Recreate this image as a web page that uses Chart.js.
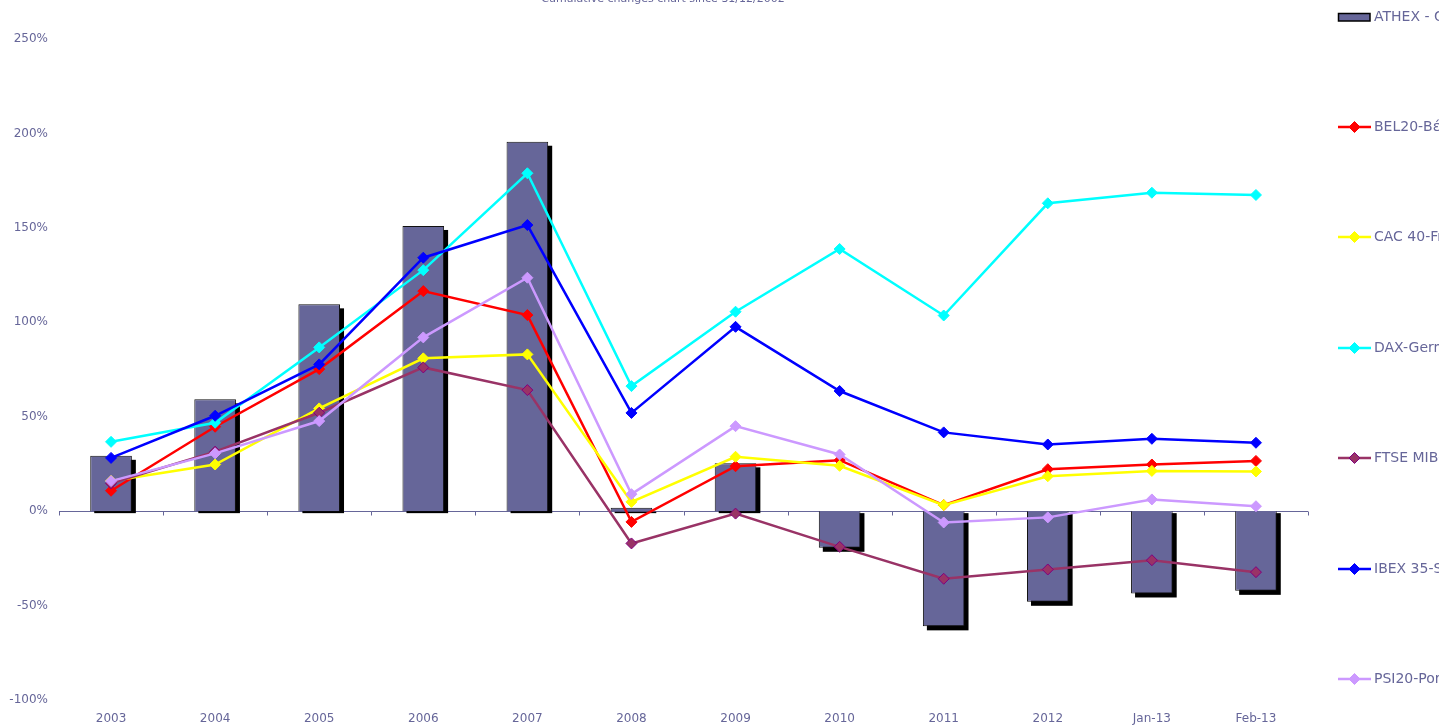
<!DOCTYPE html>
<html>
<head>
<meta charset="utf-8">
<script src="https://cdn.jsdelivr.net/npm/chart.js@4/dist/chart.umd.min.js"></script>
<style>
html,body{margin:0;padding:0;background:#fff;}
#wrap{width:1439px;height:726px;position:relative;}
</style>
</head>
<body>
<div id="wrap"><canvas id="c"></canvas></div>
<script>
const categories = ["2003","2004","2005","2006","2007","2008","2009","2010","2011","2012","Jan-13","Feb-13"];
const athex = [29.3, 59.2, 109.5, 151, 195.6, 1.8, 25.3, -19.4, -61, -48, -43.6, -42.2];
const bel20 = [10.8, 44.7, 75.2, 116.5, 103.8, -5.7, 23.8, 27, 3.2, 22.2, 24.7, 26.6];
const cac40 = [16, 24.7, 54.4, 80.9, 83, 4.9, 28.8, 24, 3.2, 18.5, 21.3, 21];
const dax = [36.7, 46.8, 86.7, 127.6, 178.9, 66.2, 105.6, 138.8, 103.6, 163, 168.6, 167.4];
const ftse = [14.7, 31.5, 52.1, 76.1, 64.1, -17.1, -1.3, -18.9, -35.8, -30.9, -26, -32.3];
const ibex = [28.2, 50.5, 77.7, 134.2, 151.5, 52, 97.6, 63.6, 41.7, 35.3, 38.3, 36.2];
const psi20 = [15.9, 30.6, 47.7, 92, 123.6, 9, 45, 30, -6, -3.3, 6.2, 2.6];
const seriesNames = ["ATHEX - General Index", "BEL20-Βέλγιο", "CAC 40-France", "DAX-Germany", "FTSE MIB-Italy", "IBEX 35-Spain", "PSI20-Portugal"];
const yTicks = [-100, -50, 0, 50, 100, 150, 200, 250];
const titleText = "Cumulative changes chart since 31/12/2002";

const TXT = '#666699';
const FONT = '"DejaVu Sans", sans-serif';

function lineDs(label, data, color, order, border) {
  return {
    type: 'line', label, data, borderColor: color, backgroundColor: color,
    borderWidth: 2.5, pointStyle: 'rectRot', pointRadius: 5.5, pointHoverRadius: 5.5,
    pointBackgroundColor: color, pointBorderColor: border || color, pointBorderWidth: 1,
    tension: 0, fill: false, order
  };
}

const datasets = [
  { type: 'bar', label: seriesNames[0], data: athex, backgroundColor: '#666699',
    borderColor: '#111111', borderWidth: 1, barPercentage: 0.4, categoryPercentage: 1, order: 20, shadow: true },
  lineDs(seriesNames[1], bel20, '#ff0000', 6),
  lineDs(seriesNames[2], cac40, '#ffff00', 5),
  lineDs(seriesNames[3], dax, '#00ffff', 4),
  lineDs(seriesNames[4], ftse, '#993366', 3, '#800080'),
  lineDs(seriesNames[5], ibex, '#0000ff', 2),
  lineDs(seriesNames[6], psi20, '#cc99ff', 1)
];

// draws the drop shadow of each bar from the bar element geometry computed by Chart.js
const shadowPlugin = {
  id: 'shadow',
  beforeDatasetDraw(chart, args) {
    if (!chart.data.datasets[args.index].shadow) return;
    const ctx = chart.ctx;
    ctx.save();
    ctx.fillStyle = '#000';
    args.meta.data.forEach(el => {
      const p = el.getProps(['x', 'y', 'base', 'width'], true);
      const left = p.x - p.width / 2 + 4;
      let top, bottom;
      if (p.y <= p.base) { top = p.y + 4; bottom = p.base + 2; }
      else { top = p.base + 2; bottom = p.y + 4; }
      ctx.fillRect(left, top, p.width, Math.max(0, bottom - top));
    });
    ctx.restore();
  }
};

const axisPlugin = {
  id: 'zeroAxis',
  beforeDatasetsDraw(chart) {
    const ctx = chart.ctx, y = chart.scales.y;
    const y0 = Math.round(y.getPixelForValue(0)) + 0.5;
    ctx.save();
    ctx.strokeStyle = TXT;
    ctx.lineWidth = 1;
    ctx.beginPath();
    ctx.moveTo(chart.chartArea.left, y0);
    ctx.lineTo(chart.chartArea.right, y0);
    const n = categories.length;
    const step = (chart.chartArea.right - chart.chartArea.left) / n;
    for (let i = 0; i <= n; i++) {
      const px = Math.round(chart.chartArea.left + i * step) + 0.5;
      ctx.moveTo(px, y0);
      ctx.lineTo(px, y0 + 4);
    }
    ctx.stroke();
    ctx.restore();
  }
};

const legendPlugin = {
  id: 'customLegend',
  afterDraw(chart) {
    const ctx = chart.ctx;
    const ys = [17, 127, 237, 348, 458, 569, 679];
    ctx.save();
    ctx.font = '14px ' + FONT;
    ctx.textBaseline = 'middle';
    ctx.textAlign = 'left';
    chart.data.datasets.forEach((ds, i) => {
      const yy = ys[i];
      if (ds.type === 'bar') {
        ctx.fillStyle = ds.backgroundColor;
        ctx.fillRect(1338, yy - 4, 32, 8);
        ctx.strokeStyle = '#000';
        ctx.lineWidth = 1.5;
        ctx.strokeRect(1338.5, yy - 3.5, 31.5, 7.5);
      } else {
        ctx.strokeStyle = ds.borderColor;
        ctx.lineWidth = 2.5;
        ctx.beginPath();
        ctx.moveTo(1338, yy);
        ctx.lineTo(1371, yy);
        ctx.stroke();
        ctx.fillStyle = ds.pointBackgroundColor;
        ctx.strokeStyle = ds.pointBorderColor;
        ctx.lineWidth = 1;
        ctx.beginPath();
        ctx.moveTo(1354.5, yy - 5.5);
        ctx.lineTo(1360, yy);
        ctx.lineTo(1354.5, yy + 5.5);
        ctx.lineTo(1349, yy);
        ctx.closePath();
        ctx.fill();
        ctx.stroke();
      }
      ctx.fillStyle = TXT;
      ctx.fillText(ds.label, 1374, yy);
    });
    // title (cut off at the top edge)
    ctx.font = '11px ' + FONT;
    ctx.textAlign = 'center';
    ctx.textBaseline = 'alphabetic';
    ctx.fillStyle = TXT;
    ctx.fillText(titleText, 663, 2);
    ctx.restore();
  }
};

new Chart(document.getElementById('c'), {
  data: { labels: categories, datasets },
  options: {
    responsive: true,
    maintainAspectRatio: false,
    animation: false,
    layout: { padding: { top: 39, right: 131, left: 0, bottom: 0 } },
    plugins: { legend: { display: false }, title: { display: false }, tooltip: { enabled: false } },
    scales: {
      x: {
        offset: true,
        grid: { display: false, drawTicks: false },
        border: { display: false },
        ticks: { color: TXT, font: { family: FONT, size: 12 }, padding: 12, maxRotation: 0, autoSkip: false },
        afterFit(s) { s.height = 26; }
      },
      y: {
        min: -100, max: 250,
        afterBuildTicks(s) { s.ticks = yTicks.map(v => ({ value: v })); },
        grid: { display: false, drawTicks: false },
        border: { display: false },
        ticks: { color: TXT, font: { family: FONT, size: 12 }, padding: 11, callback: v => v + '%' },
        afterFit(s) { s.width = 59; }
      }
    }
  },
  plugins: [shadowPlugin, axisPlugin, legendPlugin]
});
</script>
</body>
</html>
